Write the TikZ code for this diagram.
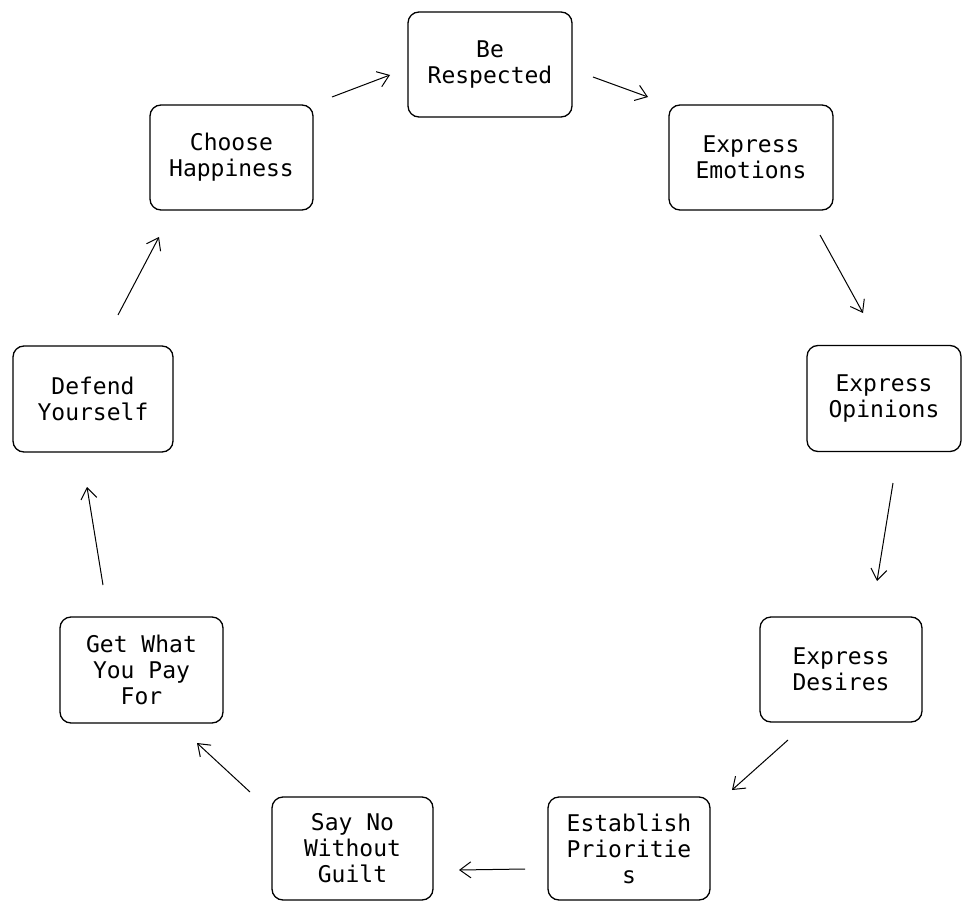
\documentclass[tikz,border=0pt]{standalone}
\usepackage{fontspec}
\setmonofont{DejaVu Sans Mono}
\usetikzlibrary{arrows.meta}
\tikzset{
  box/.style={draw=black, line width=1.3pt, rounded corners=11pt, align=center,
    font=\ttfamily\fontsize{23}{26}\selectfont, inner sep=0pt},
  link/.style={draw=black, line width=1pt, -{Straight Barb[length=11pt,width=16pt,line width=1pt]}}
}
\begin{document}
\begin{tikzpicture}[x=1pt,y=-1pt]
\useasboundingbox (0,0) rectangle (963,901);
\node[box, minimum width=164pt, minimum height=105pt] (br) at (490,64.5) {Be\\Respected};
\node[box, minimum width=164pt, minimum height=105pt] (ee) at (751,157.5) {Express\\Emotions};
\node[box, minimum width=154pt, minimum height=106pt] (eo) at (884,398.5) {Express\\Opinions};
\node[box, minimum width=162pt, minimum height=105pt] (ed) at (841,669.5) {Express\\Desires};
\node[box, minimum width=162pt, minimum height=103pt] (ep) at (629,848.5) {Establish\\Prioritie\\s};
\node[box, minimum width=161pt, minimum height=103pt] (sn) at (352.5,848.5) {Say No\\Without\\Guilt};
\node[box, minimum width=163pt, minimum height=106pt] (gw) at (141.5,670) {Get What\\You Pay\\For};
\node[box, minimum width=160pt, minimum height=106pt] (dy) at (93,399) {Defend\\Yourself};
\node[box, minimum width=163pt, minimum height=105pt] (ch) at (231.5,157.5) {Choose\\Happiness};
% connector end points
\coordinate (a1s) at (332,97);  \coordinate (a1e) at (390,75);
\coordinate (a2s) at (593,77);  \coordinate (a2e) at (648,97);
\coordinate (a3s) at (820,235); \coordinate (a3e) at (863,313);
\coordinate (a4s) at (893,483); \coordinate (a4e) at (877,581);
\coordinate (a5s) at (788,740); \coordinate (a5e) at (732,790);
\coordinate (a6s) at (525,869); \coordinate (a6e) at (459,870);
\coordinate (a7s) at (250,792); \coordinate (a7e) at (197,743);
\coordinate (a8s) at (103,585); \coordinate (a8e) at (87,487);
\coordinate (a9s) at (118,315); \coordinate (a9e) at (159,237);
\draw[link] (a1s) -- (a1e);
\draw[link] (a2s) -- (a2e);
\draw[link] (a3s) -- (a3e);
\draw[link] (a4s) -- (a4e);
\draw[link] (a5s) -- (a5e);
\draw[link] (a6s) -- (a6e);
\draw[link] (a7s) -- (a7e);
\draw[link] (a8s) -- (a8e);
\draw[link] (a9s) -- (a9e);
\end{tikzpicture}
\end{document}
